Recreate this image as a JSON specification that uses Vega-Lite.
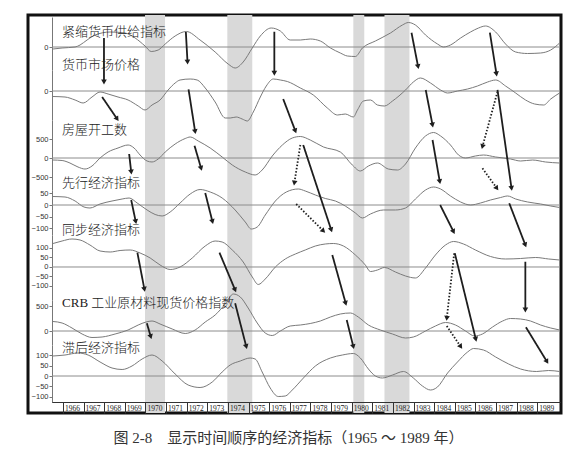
{
  "$schema": "https://vega.github.io/schema/vega-lite/v6.json",
  "width": 533,
  "height": 398,
  "autosize": {"type": "none"},
  "padding": {"left": 28, "top": 15, "right": 16, "bottom": 40},
  "background": "white",
  "config": {
    "view": {"stroke": "#111", "strokeWidth": 3},
    "axisY": {"labelFont": "Liberation Sans", "labelFontSize": 7.5, "labelColor": "#333", "tickSize": 3, "tickColor": "#777", "domainColor": "#777", "labelPadding": 1, "title": null, "grid": false},
    "axisX": {"title": null, "grid": false, "domainColor": "#333", "tickColor": "#333", "tickSize": 11, "labelAlign": "left", "labelBaseline": "top", "labelPadding": -9, "labelOffset": 1.5, "labelFont": "Liberation Serif", "labelFontSize": 7.5, "labelColor": "#222", "labelOverlap": false, "labelFlush": false, "labelBound": false, "zindex": 1}
  },
  "title": {"text": "图 2-8　显示时间顺序的经济指标（1965 ～ 1989 年）", "orient": "bottom", "anchor": "middle", "font": "Liberation Serif, Noto Sans CJK SC", "fontSize": 15, "fontWeight": "normal", "color": "#333", "offset": 17, "dx": -6},
  "datasets": {
    "recessions": [
      {"start": 1969.98, "end": 1970.95},
      {"start": 1973.97, "end": 1975.18},
      {"start": 1980.08, "end": 1980.61},
      {"start": 1981.59, "end": 1982.80}
    ],
    "arrows": [
      {"year": 1967.99, "level": 5.78, "year_end": 1967.99, "level_end": 16.83, "kind": "solid"},
      {"year": 1967.90, "level": 20.60, "year_end": 1968.63, "level_end": 26.13, "kind": "solid"},
      {"year": 1969.21, "level": 34.92, "year_end": 1969.31, "level_end": 39.45, "kind": "solid"},
      {"year": 1971.96, "level": 4.27, "year_end": 1972.04, "level_end": 11.81, "kind": "solid"},
      {"year": 1972.09, "level": 18.67, "year_end": 1972.41, "level_end": 29.32, "kind": "solid"},
      {"year": 1972.38, "level": 32.84, "year_end": 1972.70, "level_end": 38.52, "kind": "solid"},
      {"year": 1972.90, "level": 44.72, "year_end": 1973.25, "level_end": 51.93, "kind": "solid"},
      {"year": 1976.25, "level": 4.20, "year_end": 1976.25, "level_end": 14.65, "kind": "solid"},
      {"year": 1976.68, "level": 21.11, "year_end": 1977.27, "level_end": 29.15, "kind": "solid"},
      {"year": 1977.51, "level": 32.66, "year_end": 1977.22, "level_end": 42.21, "kind": "dotted"},
      {"year": 1977.65, "level": 32.66, "year_end": 1979.01, "level_end": 54.02, "kind": "solid"},
      {"year": 1977.31, "level": 47.49, "year_end": 1978.63, "level_end": 54.27, "kind": "dotted"},
      {"year": 1979.06, "level": 60.30, "year_end": 1979.71, "level_end": 72.44, "kind": "solid"},
      {"year": 1979.76, "level": 76.63, "year_end": 1980.08, "level_end": 83.34, "kind": "solid"},
      {"year": 1982.90, "level": 4.45, "year_end": 1983.22, "level_end": 12.99, "kind": "solid"},
      {"year": 1983.59, "level": 18.84, "year_end": 1983.92, "level_end": 27.64, "kind": "solid"},
      {"year": 1983.92, "level": 31.41, "year_end": 1984.27, "level_end": 41.88, "kind": "solid"},
      {"year": 1984.29, "level": 47.74, "year_end": 1984.94, "level_end": 54.45, "kind": "solid"},
      {"year": 1984.97, "level": 59.87, "year_end": 1984.61, "level_end": 76.21, "kind": "dotted"},
      {"year": 1985.00, "level": 59.87, "year_end": 1986.02, "level_end": 81.48, "kind": "solid"},
      {"year": 1984.61, "level": 78.14, "year_end": 1985.29, "level_end": 83.34, "kind": "dotted"},
      {"year": 1986.70, "level": 4.45, "year_end": 1987.02, "level_end": 14.82, "kind": "solid"},
      {"year": 1987.07, "level": 19.27, "year_end": 1986.34, "level_end": 33.09, "kind": "dotted"},
      {"year": 1987.07, "level": 18.84, "year_end": 1987.75, "level_end": 43.54, "kind": "solid"},
      {"year": 1986.34, "level": 38.52, "year_end": 1987.04, "level_end": 43.54, "kind": "dotted"},
      {"year": 1987.64, "level": 47.31, "year_end": 1988.42, "level_end": 57.79, "kind": "solid"},
      {"year": 1988.42, "level": 61.98, "year_end": 1988.42, "level_end": 74.12, "kind": "solid"},
      {"year": 1988.45, "level": 78.47, "year_end": 1989.47, "level_end": 87.11, "kind": "solid"},
      {"year": 1969.31, "level": 46.48, "year_end": 1969.53, "level_end": 51.93, "kind": "solid"},
      {"year": 1969.61, "level": 59.72, "year_end": 1969.95, "level_end": 68.92, "kind": "solid"},
      {"year": 1970.07, "level": 77.46, "year_end": 1970.26, "level_end": 80.83, "kind": "solid"},
      {"year": 1973.59, "level": 59.72, "year_end": 1974.35, "level_end": 69.10, "kind": "solid"},
      {"year": 1974.35, "level": 72.44, "year_end": 1974.89, "level_end": 83.34, "kind": "solid"}
    ],
    "series": [
      {"series": "p1", "year": 1965.52, "value": -2}, {"series": "p1", "year": 1965.96, "value": -1}, {"series": "p1", "year": 1966.59, "value": 0}, {"series": "p1", "year": 1966.83, "value": 2}, {"series": "p1", "year": 1967.17, "value": 7}, {"series": "p1", "year": 1967.56, "value": 12}, {"series": "p1", "year": 1968.29, "value": 15}, {"series": "p1", "year": 1969.01, "value": 14}, {"series": "p1", "year": 1969.50, "value": 9}, {"series": "p1", "year": 1969.98, "value": 1}, {"series": "p1", "year": 1970.28, "value": -4.5}, {"series": "p1", "year": 1970.62, "value": -3}, {"series": "p1", "year": 1970.96, "value": 3}, {"series": "p1", "year": 1971.44, "value": 11}, {"series": "p1", "year": 1971.98, "value": 15.5}, {"series": "p1", "year": 1972.65, "value": 7}, {"series": "p1", "year": 1973.38, "value": -5}, {"series": "p1", "year": 1974.01, "value": -17}, {"series": "p1", "year": 1974.35, "value": -21}, {"series": "p1", "year": 1974.74, "value": -15}, {"series": "p1", "year": 1975.18, "value": -1}, {"series": "p1", "year": 1975.57, "value": 11}, {"series": "p1", "year": 1976.10, "value": 19}, {"series": "p1", "year": 1976.54, "value": 16}, {"series": "p1", "year": 1977.02, "value": 7}, {"series": "p1", "year": 1977.51, "value": 7}, {"series": "p1", "year": 1977.99, "value": 8}, {"series": "p1", "year": 1978.48, "value": 6}, {"series": "p1", "year": 1978.97, "value": -1}, {"series": "p1", "year": 1979.45, "value": -6}, {"series": "p1", "year": 1979.79, "value": -9}, {"series": "p1", "year": 1980.18, "value": -9.5}, {"series": "p1", "year": 1980.52, "value": -1}, {"series": "p1", "year": 1981.15, "value": 6}, {"series": "p1", "year": 1981.88, "value": 14}, {"series": "p1", "year": 1982.46, "value": 22}, {"series": "p1", "year": 1982.75, "value": 24.5}, {"series": "p1", "year": 1983.09, "value": 22}, {"series": "p1", "year": 1983.58, "value": 12}, {"series": "p1", "year": 1984.16, "value": 3}, {"series": "p1", "year": 1984.45, "value": 0}, {"series": "p1", "year": 1984.79, "value": 2}, {"series": "p1", "year": 1985.28, "value": 9}, {"series": "p1", "year": 1985.76, "value": 15}, {"series": "p1", "year": 1986.15, "value": 19}, {"series": "p1", "year": 1986.49, "value": 21}, {"series": "p1", "year": 1986.98, "value": 15}, {"series": "p1", "year": 1987.46, "value": 3}, {"series": "p1", "year": 1987.95, "value": -5}, {"series": "p1", "year": 1988.53, "value": -6.5}, {"series": "p1", "year": 1989.16, "value": -6}, {"series": "p1", "year": 1989.65, "value": -3}, {"series": "p1", "year": 1990.08, "value": 4},
      {"series": "p2", "year": 1965.52, "value": -5.5}, {"series": "p2", "year": 1966.10, "value": -6}, {"series": "p2", "year": 1966.59, "value": -9}, {"series": "p2", "year": 1966.98, "value": -12}, {"series": "p2", "year": 1967.41, "value": -6}, {"series": "p2", "year": 1967.80, "value": -1}, {"series": "p2", "year": 1968.19, "value": -3}, {"series": "p2", "year": 1968.67, "value": -6}, {"series": "p2", "year": 1969.16, "value": -9}, {"series": "p2", "year": 1969.65, "value": -15}, {"series": "p2", "year": 1969.98, "value": -19}, {"series": "p2", "year": 1970.32, "value": -14}, {"series": "p2", "year": 1970.71, "value": -9}, {"series": "p2", "year": 1971.10, "value": 1}, {"series": "p2", "year": 1971.44, "value": 8}, {"series": "p2", "year": 1971.68, "value": 11}, {"series": "p2", "year": 1972.17, "value": 12}, {"series": "p2", "year": 1972.51, "value": 11}, {"series": "p2", "year": 1972.90, "value": 3}, {"series": "p2", "year": 1973.38, "value": -11}, {"series": "p2", "year": 1973.87, "value": -27}, {"series": "p2", "year": 1974.11, "value": -27}, {"series": "p2", "year": 1974.40, "value": -26}, {"series": "p2", "year": 1974.69, "value": -28}, {"series": "p2", "year": 1974.94, "value": -30}, {"series": "p2", "year": 1975.23, "value": -21}, {"series": "p2", "year": 1975.57, "value": -6}, {"series": "p2", "year": 1975.86, "value": 5}, {"series": "p2", "year": 1976.20, "value": 12}, {"series": "p2", "year": 1976.54, "value": 11}, {"series": "p2", "year": 1976.88, "value": 9.5}, {"series": "p2", "year": 1977.51, "value": 3}, {"series": "p2", "year": 1978.14, "value": -4}, {"series": "p2", "year": 1978.82, "value": -17}, {"series": "p2", "year": 1979.31, "value": -24}, {"series": "p2", "year": 1979.69, "value": -23}, {"series": "p2", "year": 1980.08, "value": -26}, {"series": "p2", "year": 1980.28, "value": -19}, {"series": "p2", "year": 1980.57, "value": -10}, {"series": "p2", "year": 1980.91, "value": -9}, {"series": "p2", "year": 1981.25, "value": -14}, {"series": "p2", "year": 1981.59, "value": -15}, {"series": "p2", "year": 1981.98, "value": -10}, {"series": "p2", "year": 1982.61, "value": 1}, {"series": "p2", "year": 1982.99, "value": 9}, {"series": "p2", "year": 1983.33, "value": 13}, {"series": "p2", "year": 1983.82, "value": 8}, {"series": "p2", "year": 1984.31, "value": 1}, {"series": "p2", "year": 1984.65, "value": -2}, {"series": "p2", "year": 1985.13, "value": 0}, {"series": "p2", "year": 1985.62, "value": 2}, {"series": "p2", "year": 1986.10, "value": 5}, {"series": "p2", "year": 1986.59, "value": 9}, {"series": "p2", "year": 1986.98, "value": 11}, {"series": "p2", "year": 1987.46, "value": 5}, {"series": "p2", "year": 1987.95, "value": -2}, {"series": "p2", "year": 1988.43, "value": -9}, {"series": "p2", "year": 1988.87, "value": -13}, {"series": "p2", "year": 1989.31, "value": -14}, {"series": "p2", "year": 1989.65, "value": -8}, {"series": "p2", "year": 1990.08, "value": -2},
      {"series": "p3", "year": 1965.52, "value": -53}, {"series": "p3", "year": 1965.96, "value": -66}, {"series": "p3", "year": 1966.34, "value": -132}, {"series": "p3", "year": 1966.73, "value": -237}, {"series": "p3", "year": 1967.07, "value": -290}, {"series": "p3", "year": 1967.41, "value": -211}, {"series": "p3", "year": 1967.80, "value": 0}, {"series": "p3", "year": 1968.19, "value": 158}, {"series": "p3", "year": 1968.67, "value": 263}, {"series": "p3", "year": 1969.16, "value": 342}, {"series": "p3", "year": 1969.45, "value": 263}, {"series": "p3", "year": 1969.74, "value": 79}, {"series": "p3", "year": 1970.08, "value": -79}, {"series": "p3", "year": 1970.32, "value": -105}, {"series": "p3", "year": 1970.62, "value": -26}, {"series": "p3", "year": 1970.96, "value": 158}, {"series": "p3", "year": 1971.44, "value": 368}, {"series": "p3", "year": 1971.93, "value": 513}, {"series": "p3", "year": 1972.17, "value": 553}, {"series": "p3", "year": 1972.56, "value": 447}, {"series": "p3", "year": 1973.14, "value": 263}, {"series": "p3", "year": 1973.72, "value": 26}, {"series": "p3", "year": 1974.21, "value": -184}, {"series": "p3", "year": 1974.84, "value": -368}, {"series": "p3", "year": 1975.32, "value": -447}, {"series": "p3", "year": 1975.66, "value": -316}, {"series": "p3", "year": 1976.15, "value": 53}, {"series": "p3", "year": 1976.64, "value": 342}, {"series": "p3", "year": 1977.12, "value": 526}, {"series": "p3", "year": 1977.51, "value": 566}, {"series": "p3", "year": 1977.99, "value": 474}, {"series": "p3", "year": 1978.63, "value": 290}, {"series": "p3", "year": 1979.45, "value": 158}, {"series": "p3", "year": 1980.03, "value": -184}, {"series": "p3", "year": 1980.42, "value": -342}, {"series": "p3", "year": 1980.81, "value": -211}, {"series": "p3", "year": 1981.25, "value": -132}, {"series": "p3", "year": 1981.78, "value": -290}, {"series": "p3", "year": 1982.22, "value": -316}, {"series": "p3", "year": 1982.61, "value": -158}, {"series": "p3", "year": 1983.09, "value": 263}, {"series": "p3", "year": 1983.58, "value": 579}, {"series": "p3", "year": 1983.97, "value": 671}, {"series": "p3", "year": 1984.31, "value": 579}, {"series": "p3", "year": 1984.79, "value": 342}, {"series": "p3", "year": 1985.18, "value": 79}, {"series": "p3", "year": 1985.52, "value": 0}, {"series": "p3", "year": 1986.00, "value": 53}, {"series": "p3", "year": 1986.39, "value": 79}, {"series": "p3", "year": 1986.98, "value": 26}, {"series": "p3", "year": 1987.70, "value": -26}, {"series": "p3", "year": 1988.19, "value": -79}, {"series": "p3", "year": 1988.77, "value": -53}, {"series": "p3", "year": 1989.40, "value": -105}, {"series": "p3", "year": 1990.08, "value": -132},
      {"series": "p4", "year": 1965.52, "value": 36.4}, {"series": "p4", "year": 1966.10, "value": 34.3}, {"series": "p4", "year": 1966.59, "value": 17.1}, {"series": "p4", "year": 1967.02, "value": -8.6}, {"series": "p4", "year": 1967.31, "value": -12.9}, {"series": "p4", "year": 1967.80, "value": 4.3}, {"series": "p4", "year": 1968.38, "value": 17.1}, {"series": "p4", "year": 1968.87, "value": 25.7}, {"series": "p4", "year": 1969.21, "value": 30}, {"series": "p4", "year": 1969.60, "value": 8.6}, {"series": "p4", "year": 1970.08, "value": -21.4}, {"series": "p4", "year": 1970.47, "value": -40.7}, {"series": "p4", "year": 1970.81, "value": -47.1}, {"series": "p4", "year": 1971.20, "value": -30}, {"series": "p4", "year": 1971.68, "value": 8.6}, {"series": "p4", "year": 1972.17, "value": 47.1}, {"series": "p4", "year": 1972.65, "value": 66.4}, {"series": "p4", "year": 1973.14, "value": 55.7}, {"series": "p4", "year": 1973.72, "value": 30}, {"series": "p4", "year": 1974.35, "value": -21.4}, {"series": "p4", "year": 1974.84, "value": -72.9}, {"series": "p4", "year": 1975.13, "value": -102.9}, {"series": "p4", "year": 1975.42, "value": -94.3}, {"series": "p4", "year": 1975.81, "value": -42.9}, {"series": "p4", "year": 1976.30, "value": 17.1}, {"series": "p4", "year": 1976.83, "value": 55.7}, {"series": "p4", "year": 1977.41, "value": 68.6}, {"series": "p4", "year": 1977.75, "value": 60}, {"series": "p4", "year": 1978.24, "value": 42.9}, {"series": "p4", "year": 1978.72, "value": 27.9}, {"series": "p4", "year": 1979.21, "value": 17.1}, {"series": "p4", "year": 1979.69, "value": -4.3}, {"series": "p4", "year": 1980.18, "value": -34.3}, {"series": "p4", "year": 1980.52, "value": -55.7}, {"series": "p4", "year": 1980.91, "value": -38.6}, {"series": "p4", "year": 1981.54, "value": -21.4}, {"series": "p4", "year": 1982.12, "value": -21.4}, {"series": "p4", "year": 1982.61, "value": -12.9}, {"series": "p4", "year": 1983.09, "value": 25.7}, {"series": "p4", "year": 1983.58, "value": 64.3}, {"series": "p4", "year": 1983.97, "value": 77.1}, {"series": "p4", "year": 1984.31, "value": 68.6}, {"series": "p4", "year": 1984.79, "value": 38.6}, {"series": "p4", "year": 1985.28, "value": 12.9}, {"series": "p4", "year": 1985.76, "value": 0}, {"series": "p4", "year": 1986.25, "value": 8.6}, {"series": "p4", "year": 1986.73, "value": 21.4}, {"series": "p4", "year": 1987.22, "value": 32.1}, {"series": "p4", "year": 1987.56, "value": 38.6}, {"series": "p4", "year": 1987.95, "value": 25.7}, {"series": "p4", "year": 1988.53, "value": 12.9}, {"series": "p4", "year": 1989.16, "value": 4.3}, {"series": "p4", "year": 1989.65, "value": -4.3}, {"series": "p4", "year": 1990.08, "value": -10.7},
      {"series": "p5", "year": 1965.52, "value": 123.7}, {"series": "p5", "year": 1965.96, "value": 136.8}, {"series": "p5", "year": 1966.44, "value": 147.4}, {"series": "p5", "year": 1966.83, "value": 142.1}, {"series": "p5", "year": 1967.31, "value": 115.8}, {"series": "p5", "year": 1967.80, "value": 84.2}, {"series": "p5", "year": 1968.29, "value": 78.9}, {"series": "p5", "year": 1968.77, "value": 86.8}, {"series": "p5", "year": 1969.26, "value": 89.5}, {"series": "p5", "year": 1969.74, "value": 73.7}, {"series": "p5", "year": 1970.23, "value": 47.4}, {"series": "p5", "year": 1970.71, "value": 10.5}, {"series": "p5", "year": 1971.20, "value": -13.2}, {"series": "p5", "year": 1971.68, "value": 0}, {"series": "p5", "year": 1972.27, "value": 47.4}, {"series": "p5", "year": 1972.90, "value": 110.5}, {"series": "p5", "year": 1973.38, "value": 136.8}, {"series": "p5", "year": 1973.72, "value": 131.6}, {"series": "p5", "year": 1974.21, "value": 89.5}, {"series": "p5", "year": 1974.74, "value": 26.3}, {"series": "p5", "year": 1975.18, "value": -52.6}, {"series": "p5", "year": 1975.47, "value": -92.1}, {"series": "p5", "year": 1975.81, "value": -63.2}, {"series": "p5", "year": 1976.30, "value": 0}, {"series": "p5", "year": 1976.78, "value": 42.1}, {"series": "p5", "year": 1977.27, "value": 68.4}, {"series": "p5", "year": 1977.75, "value": 89.5}, {"series": "p5", "year": 1978.24, "value": 110.5}, {"series": "p5", "year": 1978.72, "value": 121.1}, {"series": "p5", "year": 1979.11, "value": 123.7}, {"series": "p5", "year": 1979.60, "value": 110.5}, {"series": "p5", "year": 1980.18, "value": 63.2}, {"series": "p5", "year": 1980.66, "value": 10.5}, {"series": "p5", "year": 1980.91, "value": -23.7}, {"series": "p5", "year": 1981.25, "value": -15.8}, {"series": "p5", "year": 1981.59, "value": -2.6}, {"series": "p5", "year": 1982.12, "value": -26.3}, {"series": "p5", "year": 1982.61, "value": -47.4}, {"series": "p5", "year": 1983.09, "value": -57.9}, {"series": "p5", "year": 1983.58, "value": -5.3}, {"series": "p5", "year": 1984.06, "value": 63.2}, {"series": "p5", "year": 1984.55, "value": 115.8}, {"series": "p5", "year": 1984.94, "value": 134.2}, {"series": "p5", "year": 1985.42, "value": 121.1}, {"series": "p5", "year": 1986.00, "value": 89.5}, {"series": "p5", "year": 1986.73, "value": 55.3}, {"series": "p5", "year": 1987.46, "value": 42.1}, {"series": "p5", "year": 1988.19, "value": 44.7}, {"series": "p5", "year": 1988.92, "value": 50}, {"series": "p5", "year": 1989.55, "value": 42.1}, {"series": "p5", "year": 1990.08, "value": 36.8},
      {"series": "p6", "year": 1965.52, "value": 190}, {"series": "p6", "year": 1965.96, "value": 160}, {"series": "p6", "year": 1966.44, "value": 60}, {"series": "p6", "year": 1966.93, "value": -60}, {"series": "p6", "year": 1967.41, "value": -130}, {"series": "p6", "year": 1967.90, "value": -120}, {"series": "p6", "year": 1968.53, "value": -60}, {"series": "p6", "year": 1969.16, "value": 20}, {"series": "p6", "year": 1969.65, "value": 120}, {"series": "p6", "year": 1970.03, "value": 180}, {"series": "p6", "year": 1970.32, "value": 200}, {"series": "p6", "year": 1970.71, "value": 140}, {"series": "p6", "year": 1971.30, "value": 40}, {"series": "p6", "year": 1971.93, "value": -50}, {"series": "p6", "year": 1972.41, "value": 20}, {"series": "p6", "year": 1972.90, "value": 180}, {"series": "p6", "year": 1973.38, "value": 320}, {"series": "p6", "year": 1973.87, "value": 540}, {"series": "p6", "year": 1974.26, "value": 740}, {"series": "p6", "year": 1974.60, "value": 680}, {"series": "p6", "year": 1974.98, "value": 460}, {"series": "p6", "year": 1975.42, "value": 160}, {"series": "p6", "year": 1975.81, "value": -40}, {"series": "p6", "year": 1976.15, "value": -90}, {"series": "p6", "year": 1976.54, "value": 0}, {"series": "p6", "year": 1977.02, "value": 100}, {"series": "p6", "year": 1977.51, "value": 120}, {"series": "p6", "year": 1977.99, "value": 150}, {"series": "p6", "year": 1978.48, "value": 200}, {"series": "p6", "year": 1978.97, "value": 280}, {"series": "p6", "year": 1979.45, "value": 340}, {"series": "p6", "year": 1979.94, "value": 360}, {"series": "p6", "year": 1980.32, "value": 280}, {"series": "p6", "year": 1980.81, "value": 120}, {"series": "p6", "year": 1981.39, "value": 20}, {"series": "p6", "year": 1981.98, "value": -60}, {"series": "p6", "year": 1982.61, "value": -140}, {"series": "p6", "year": 1982.99, "value": -120}, {"series": "p6", "year": 1983.58, "value": 0}, {"series": "p6", "year": 1984.06, "value": 100}, {"series": "p6", "year": 1984.55, "value": 170}, {"series": "p6", "year": 1985.03, "value": 120}, {"series": "p6", "year": 1985.52, "value": 0}, {"series": "p6", "year": 1985.96, "value": -100}, {"series": "p6", "year": 1986.34, "value": -60}, {"series": "p6", "year": 1986.83, "value": 80}, {"series": "p6", "year": 1987.32, "value": 200}, {"series": "p6", "year": 1987.70, "value": 250}, {"series": "p6", "year": 1988.19, "value": 240}, {"series": "p6", "year": 1988.67, "value": 200}, {"series": "p6", "year": 1989.16, "value": 120}, {"series": "p6", "year": 1989.65, "value": 60}, {"series": "p6", "year": 1990.08, "value": 20},
      {"series": "p7", "year": 1965.52, "value": 97.6}, {"series": "p7", "year": 1966.10, "value": 102.4}, {"series": "p7", "year": 1966.73, "value": 112.2}, {"series": "p7", "year": 1967.22, "value": 102.4}, {"series": "p7", "year": 1967.80, "value": 68.3}, {"series": "p7", "year": 1968.38, "value": 39}, {"series": "p7", "year": 1968.87, "value": 31.7}, {"series": "p7", "year": 1969.35, "value": 48.8}, {"series": "p7", "year": 1969.84, "value": 82.9}, {"series": "p7", "year": 1970.32, "value": 102.4}, {"series": "p7", "year": 1970.81, "value": 73.2}, {"series": "p7", "year": 1971.44, "value": 9.8}, {"series": "p7", "year": 1972.07, "value": -43.9}, {"series": "p7", "year": 1972.65, "value": -56.1}, {"series": "p7", "year": 1973.24, "value": -29.3}, {"series": "p7", "year": 1973.72, "value": 19.5}, {"series": "p7", "year": 1974.11, "value": 53.7}, {"series": "p7", "year": 1974.60, "value": 73.2}, {"series": "p7", "year": 1975.08, "value": 87.8}, {"series": "p7", "year": 1975.32, "value": 82.9}, {"series": "p7", "year": 1975.66, "value": 19.5}, {"series": "p7", "year": 1976.05, "value": -58.5}, {"series": "p7", "year": 1976.44, "value": -100}, {"series": "p7", "year": 1976.78, "value": -97.6}, {"series": "p7", "year": 1977.12, "value": -68.3}, {"series": "p7", "year": 1977.66, "value": -9.8}, {"series": "p7", "year": 1978.24, "value": 48.8}, {"series": "p7", "year": 1978.97, "value": 87.8}, {"series": "p7", "year": 1979.55, "value": 102.4}, {"series": "p7", "year": 1980.08, "value": 109.8}, {"series": "p7", "year": 1980.42, "value": 87.8}, {"series": "p7", "year": 1980.81, "value": 34.1}, {"series": "p7", "year": 1981.15, "value": 0}, {"series": "p7", "year": 1981.49, "value": -9.8}, {"series": "p7", "year": 1981.98, "value": 4.9}, {"series": "p7", "year": 1982.51, "value": 22}, {"series": "p7", "year": 1982.99, "value": -9.8}, {"series": "p7", "year": 1983.43, "value": -48.8}, {"series": "p7", "year": 1983.82, "value": -68.3}, {"series": "p7", "year": 1984.16, "value": -53.7}, {"series": "p7", "year": 1984.65, "value": 14.6}, {"series": "p7", "year": 1985.13, "value": 68.3}, {"series": "p7", "year": 1985.62, "value": 117.1}, {"series": "p7", "year": 1985.91, "value": 134.1}, {"series": "p7", "year": 1986.39, "value": 126.8}, {"series": "p7", "year": 1986.98, "value": 92.7}, {"series": "p7", "year": 1987.61, "value": 58.5}, {"series": "p7", "year": 1988.19, "value": 34.1}, {"series": "p7", "year": 1988.97, "value": 22}, {"series": "p7", "year": 1989.55, "value": 26.8}, {"series": "p7", "year": 1990.08, "value": 22}
    ]
  },
  "resolve": {"scale": {"y": "independent"}, "axis": {"y": "independent", "x": "independent"}},
  "layer": [
    {
      "data": {"name": "recessions"},
      "mark": {"type": "rect", "color": "#d9d9d9"},
      "encoding": {
        "x": {"field": "start", "type": "quantitative", "scale": {"domain": [1965.47, 1990.1], "range": [24, 532]},
          "axis": {"orient": "bottom", "offset": -11, "values": [1966,1968,1970,1972,1974,1976,1978,1980,1982,1984,1986,1988], "format": "d", "title": null, "grid": false, "labelOverlap": false, "labelFlush": false, "labelBound": false, "zindex": 1}},
        "x2": {"field": "end"}
      }
    },
    {
      "layer": [
        {"data": {"values": [{}]}, "mark": {"type": "rule", "color": "#8c8c8c", "strokeWidth": 1},
         "encoding": {"x": {"datum": 1965.47, "type": "quantitative", "scale": {"domain": [1965.47, 1990.1], "range": [24, 532]}, "axis": null}, "x2": {"datum": 1990.1},
           "y": {"datum": 0, "type": "quantitative", "scale": {"domain": [-23, 30], "range": [55, 2]}, "axis": {"orient": "left", "offset": -24, "values": [0], "title": null, "grid": false}}}},
        {"data": {"name": "series"}, "transform": [{"filter": "datum.series === 'p1'"}], "mark": {"type": "line", "interpolate": "monotone", "color": "#7a7a7a", "strokeWidth": 1},
         "encoding": {"x": {"field": "year", "type": "quantitative", "scale": {"domain": [1965.47, 1990.1], "range": [24, 532]}, "axis": null},
           "y": {"field": "value", "type": "quantitative", "scale": {"domain": [-23, 30], "range": [55, 2]}}}},
        {"data": {"values": [{"name": "紧缩货币供给指标"}]}, "mark": {"type": "text", "align": "left", "baseline": "middle", "font": "Liberation Serif, Noto Sans CJK SC", "fontSize": 13, "fontWeight": 300, "color": "#222"},
         "encoding": {"x": {"datum": 1965.96, "type": "quantitative", "scale": {"domain": [1965.47, 1990.1], "range": [24, 532]}, "axis": null},
           "y": {"datum": 15, "type": "quantitative", "scale": {"domain": [-23, 30], "range": [55, 2]}}, "text": {"field": "name"}}}
      ]
    },
    {
      "layer": [
        {"data": {"values": [{}]}, "mark": {"type": "rule", "color": "#8c8c8c", "strokeWidth": 1},
         "encoding": {"x": {"datum": 1965.47, "type": "quantitative", "scale": {"domain": [1965.47, 1990.1], "range": [24, 532]}, "axis": null}, "x2": {"datum": 1990.1},
           "y": {"datum": 0, "type": "quantitative", "scale": {"domain": [-29, 21], "range": [105, 55]}, "axis": {"orient": "left", "offset": -24, "values": [0], "title": null, "grid": false}}}},
        {"data": {"name": "series"}, "transform": [{"filter": "datum.series === 'p2'"}], "mark": {"type": "line", "interpolate": "monotone", "color": "#7a7a7a", "strokeWidth": 1},
         "encoding": {"x": {"field": "year", "type": "quantitative", "scale": {"domain": [1965.47, 1990.1], "range": [24, 532]}, "axis": null},
           "y": {"field": "value", "type": "quantitative", "scale": {"domain": [-29, 21], "range": [105, 55]}}}},
        {"data": {"values": [{"name": "货币市场价格"}]}, "mark": {"type": "text", "align": "left", "baseline": "middle", "font": "Liberation Serif, Noto Sans CJK SC", "fontSize": 13, "fontWeight": 300, "color": "#222"},
         "encoding": {"x": {"datum": 1965.96, "type": "quantitative", "scale": {"domain": [1965.47, 1990.1], "range": [24, 532]}, "axis": null},
           "y": {"datum": 26, "type": "quantitative", "scale": {"domain": [-29, 21], "range": [105, 55]}}, "text": {"field": "name"}}}
      ]
    },
    {
      "layer": [
        {"data": {"values": [{}]}, "mark": {"type": "rule", "color": "#8c8c8c", "strokeWidth": 1},
         "encoding": {"x": {"datum": 1965.47, "type": "quantitative", "scale": {"domain": [1965.47, 1990.1], "range": [24, 532]}, "axis": null}, "x2": {"datum": 1990.1},
           "y": {"datum": 0, "type": "quantitative", "scale": {"domain": [-842, 1000], "range": [175, 105]}, "axis": {"orient": "left", "offset": -24, "values": [-500, 0, 500], "title": null, "grid": false}}}},
        {"data": {"name": "series"}, "transform": [{"filter": "datum.series === 'p3'"}], "mark": {"type": "line", "interpolate": "monotone", "color": "#7a7a7a", "strokeWidth": 1},
         "encoding": {"x": {"field": "year", "type": "quantitative", "scale": {"domain": [1965.47, 1990.1], "range": [24, 532]}, "axis": null},
           "y": {"field": "value", "type": "quantitative", "scale": {"domain": [-842, 1000], "range": [175, 105]}}}},
        {"data": {"values": [{"name": "房屋开工数"}]}, "mark": {"type": "text", "align": "left", "baseline": "middle", "font": "Liberation Serif, Noto Sans CJK SC", "fontSize": 13, "fontWeight": 300, "color": "#222"},
         "encoding": {"x": {"datum": 1965.96, "type": "quantitative", "scale": {"domain": [1965.47, 1990.1], "range": [24, 532]}, "axis": null},
           "y": {"datum": 737, "type": "quantitative", "scale": {"domain": [-842, 1000], "range": [175, 105]}}, "text": {"field": "name"}}}
      ]
    },
    {
      "layer": [
        {"data": {"values": [{}]}, "mark": {"type": "rule", "color": "#8c8c8c", "strokeWidth": 1},
         "encoding": {"x": {"datum": 1965.47, "type": "quantitative", "scale": {"domain": [1965.47, 1990.1], "range": [24, 532]}, "axis": null}, "x2": {"datum": 1990.1},
           "y": {"datum": 0, "type": "quantitative", "scale": {"domain": [-128.6, 64.3], "range": [220, 175]}, "axis": {"orient": "left", "offset": -24, "values": [-100, -50, 0, 50], "title": null, "grid": false}}}},
        {"data": {"name": "series"}, "transform": [{"filter": "datum.series === 'p4'"}], "mark": {"type": "line", "interpolate": "monotone", "color": "#7a7a7a", "strokeWidth": 1},
         "encoding": {"x": {"field": "year", "type": "quantitative", "scale": {"domain": [1965.47, 1990.1], "range": [24, 532]}, "axis": null},
           "y": {"field": "value", "type": "quantitative", "scale": {"domain": [-128.6, 64.3], "range": [220, 175]}}}},
        {"data": {"values": [{"name": "先行经济指标"}]}, "mark": {"type": "text", "align": "left", "baseline": "middle", "font": "Liberation Serif, Noto Sans CJK SC", "fontSize": 13, "fontWeight": 300, "color": "#222"},
         "encoding": {"x": {"datum": 1965.96, "type": "quantitative", "scale": {"domain": [1965.47, 1990.1], "range": [24, 532]}, "axis": null},
           "y": {"datum": 94, "type": "quantitative", "scale": {"domain": [-128.6, 64.3], "range": [220, 175]}}, "text": {"field": "name"}}}
      ]
    },
    {
      "layer": [
        {"data": {"values": [{}]}, "mark": {"type": "rule", "color": "#8c8c8c", "strokeWidth": 1},
         "encoding": {"x": {"datum": 1965.47, "type": "quantitative", "scale": {"domain": [1965.47, 1990.1], "range": [24, 532]}, "axis": null}, "x2": {"datum": 1990.1},
           "y": {"datum": 0, "type": "quantitative", "scale": {"domain": [-173.7, 168.4], "range": [285, 220]}, "axis": {"orient": "left", "offset": -24, "values": [-100, -50, 0, 50, 100], "title": null, "grid": false}}}},
        {"data": {"name": "series"}, "transform": [{"filter": "datum.series === 'p5'"}], "mark": {"type": "line", "interpolate": "monotone", "color": "#7a7a7a", "strokeWidth": 1},
         "encoding": {"x": {"field": "year", "type": "quantitative", "scale": {"domain": [1965.47, 1990.1], "range": [24, 532]}, "axis": null},
           "y": {"field": "value", "type": "quantitative", "scale": {"domain": [-173.7, 168.4], "range": [285, 220]}}}},
        {"data": {"values": [{"name": "同步经济指标"}]}, "mark": {"type": "text", "align": "left", "baseline": "middle", "font": "Liberation Serif, Noto Sans CJK SC", "fontSize": 13, "fontWeight": 300, "color": "#222"},
         "encoding": {"x": {"datum": 1965.96, "type": "quantitative", "scale": {"domain": [1965.47, 1990.1], "range": [24, 532]}, "axis": null},
           "y": {"datum": 195, "type": "quantitative", "scale": {"domain": [-173.7, 168.4], "range": [285, 220]}}, "text": {"field": "name"}}}
      ]
    },
    {
      "layer": [
        {"data": {"values": [{}]}, "mark": {"type": "rule", "color": "#8c8c8c", "strokeWidth": 1},
         "encoding": {"x": {"datum": 1965.47, "type": "quantitative", "scale": {"domain": [1965.47, 1990.1], "range": [24, 532]}, "axis": null}, "x2": {"datum": 1990.1},
           "y": {"datum": 0, "type": "quantitative", "scale": {"domain": [-280, 620], "range": [330, 285]}, "axis": {"orient": "left", "offset": -24, "values": [0, 500], "title": null, "grid": false}}}},
        {"data": {"name": "series"}, "transform": [{"filter": "datum.series === 'p6'"}], "mark": {"type": "line", "interpolate": "monotone", "color": "#7a7a7a", "strokeWidth": 1},
         "encoding": {"x": {"field": "year", "type": "quantitative", "scale": {"domain": [1965.47, 1990.1], "range": [24, 532]}, "axis": null},
           "y": {"field": "value", "type": "quantitative", "scale": {"domain": [-280, 620], "range": [330, 285]}}}},
        {"data": {"values": [{"name": "CRB 工业原材料现货价格指数"}]}, "mark": {"type": "text", "align": "left", "baseline": "middle", "font": "Liberation Serif, Noto Sans CJK SC", "fontSize": 13, "fontWeight": 300, "color": "#222"},
         "encoding": {"x": {"datum": 1965.96, "type": "quantitative", "scale": {"domain": [1965.47, 1990.1], "range": [24, 532]}, "axis": null},
           "y": {"datum": 560, "type": "quantitative", "scale": {"domain": [-280, 620], "range": [330, 285]}}, "text": {"field": "name"}}}
      ]
    },
    {
      "layer": [
        {"data": {"values": [{}]}, "mark": {"type": "rule", "color": "#8c8c8c", "strokeWidth": 1},
         "encoding": {"x": {"datum": 1965.47, "type": "quantitative", "scale": {"domain": [1965.47, 1990.1], "range": [24, 532]}, "axis": null}, "x2": {"datum": 1990.1},
           "y": {"datum": 0, "type": "quantitative", "scale": {"domain": [-126.8, 151.2], "range": [387, 330]}, "axis": {"orient": "left", "offset": -24, "values": [-100, -50, 0, 50, 100], "title": null, "grid": false}}}},
        {"data": {"name": "series"}, "transform": [{"filter": "datum.series === 'p7'"}], "mark": {"type": "line", "interpolate": "monotone", "color": "#7a7a7a", "strokeWidth": 1},
         "encoding": {"x": {"field": "year", "type": "quantitative", "scale": {"domain": [1965.47, 1990.1], "range": [24, 532]}, "axis": null},
           "y": {"field": "value", "type": "quantitative", "scale": {"domain": [-126.8, 151.2], "range": [387, 330]}}}},
        {"data": {"values": [{"name": "滞后经济指标"}]}, "mark": {"type": "text", "align": "left", "baseline": "middle", "font": "Liberation Serif, Noto Sans CJK SC", "fontSize": 13, "fontWeight": 300, "color": "#222"},
         "encoding": {"x": {"datum": 1965.96, "type": "quantitative", "scale": {"domain": [1965.47, 1990.1], "range": [24, 532]}, "axis": null},
           "y": {"datum": 137, "type": "quantitative", "scale": {"domain": [-126.8, 151.2], "range": [387, 330]}}, "text": {"field": "name"}}}
      ]
    },
    {
      "data": {"name": "arrows"},
      "layer": [
        {"mark": {"type": "rule", "color": "#1e1e1e", "strokeWidth": 1.8},
         "encoding": {"x": {"field": "year", "type": "quantitative", "scale": {"domain": [1965.47, 1990.1], "range": [24, 532]},
             "axis": {"orient": "bottom", "offset": -11, "values": [1967,1969,1971,1973,1975,1977,1979,1981,1983,1985,1987,1989], "format": "d", "title": null, "grid": false, "labelOverlap": false, "labelFlush": false, "labelBound": false, "zindex": 1}},
           "x2": {"field": "year_end"},
           "y": {"field": "level", "type": "quantitative", "scale": {"domain": [0, 100], "range": [0, 398]}, "axis": null}, "y2": {"field": "level_end"},
           "strokeDash": {"field": "kind", "type": "nominal", "scale": {"domain": ["solid", "dotted"], "range": [[1, 0], [1.5, 1.8]]}, "legend": null}}},
        {"mark": {"type": "point", "shape": "triangle-down", "filled": true, "color": "#1e1e1e", "opacity": 1, "size": 32,
           "angle": {"expr": "-atan2((datum.year_end - datum.year) * 20.6, (datum.level_end - datum.level) * 3.98) * 180 / PI"}},
         "encoding": {"x": {"field": "year_end", "type": "quantitative", "scale": {"domain": [1965.47, 1990.1], "range": [24, 532]}},
           "y": {"field": "level_end", "type": "quantitative", "scale": {"domain": [0, 100], "range": [0, 398]}, "axis": null}}}
      ]
    }
  ]
}
